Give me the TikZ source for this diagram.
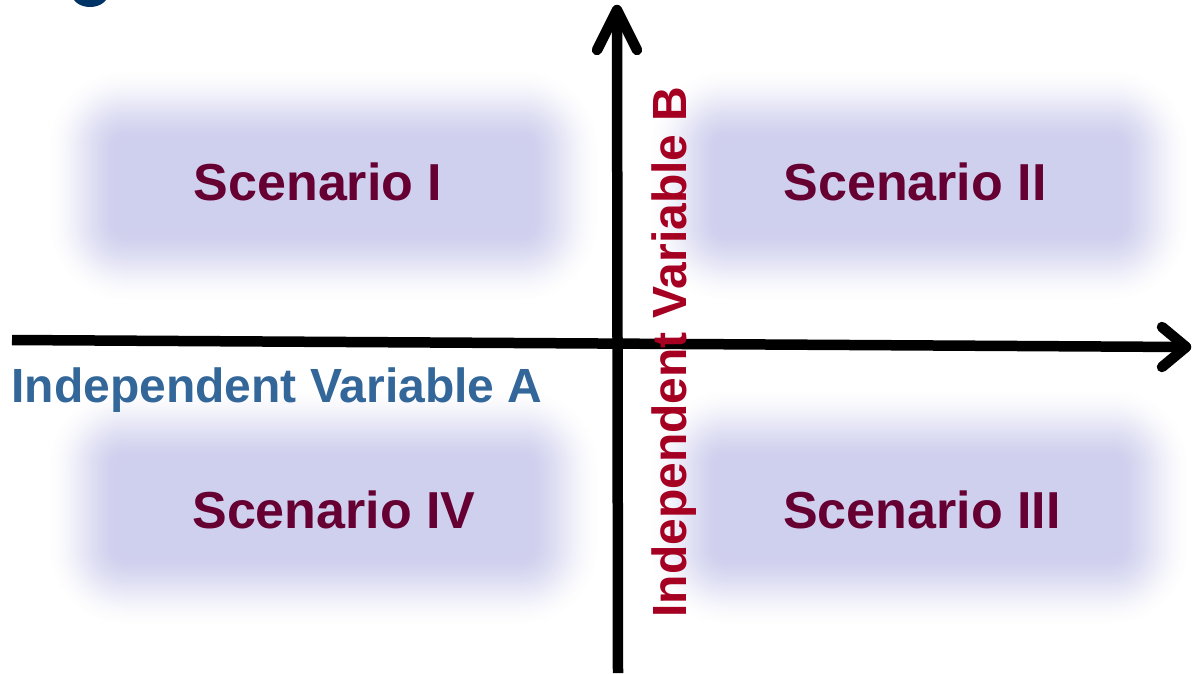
\documentclass[tikz,border=0pt]{standalone}
\usepackage{fontspec}
\setmainfont{Liberation Sans}
\definecolor{boxcore}{RGB}{207,207,238}
\definecolor{scen}{RGB}{102,0,51}
\definecolor{vara}{RGB}{51,102,153}
\definecolor{varb}{RGB}{165,0,33}
\definecolor{titleblue}{RGB}{0,51,102}
% #1..#4: rectangle at half intensity; soft edge of +-38pt
\newcommand\blurbox[4]{%
  \foreach \i in {0,...,38}{%
    \pgfmathsetmacro\tt{\i/38}%
    \pgfmathsetmacro\dd{38*(1-2*\tt)}%
    \pgfmathtruncatemacro\pp{100*(3*\tt*\tt-2*\tt*\tt*\tt)}%
    \pgfmathsetmacro\rr{\dd+44}%
    \fill[boxcore!\pp!white, rounded corners=\rr pt]
      (#1-\dd,#2-\dd) rectangle (#3+\dd,#4+\dd);
  }%
}
\tikzset{
  axis/.style={line width=10.5pt, black, line cap=butt},
  chev/.style={line width=10.5pt, black, line cap=round, line join=round},
  scenario/.style={inner sep=0pt, anchor=base, text=scen, font=\bfseries\fontsize{52}{60}\selectfont},
  varlabel/.style={inner sep=0pt, anchor=base, font=\bfseries\fontsize{48}{56}\selectfont}
}
\begin{document}
\begin{tikzpicture}[x=1pt,y=-1pt]
\clip (0,0) rectangle (1192,673);
\fill[white] (0,0) rectangle (1192,673);
% cut-off fragment of a title glyph
\fill[titleblue] (90,-6) ellipse [x radius=18, y radius=13];
% blurred scenario panels
\blurbox{82}{104}{565}{267}
\blurbox{683}{104}{1155}{267}
\blurbox{82}{423}{565}{591}
\blurbox{683}{423}{1155}{591}
% axes
\coordinate (hL) at (12,340);
\coordinate (hR) at (1186,347);
\coordinate (hRa) at (1162,327);
\coordinate (hRb) at (1162,367);
\coordinate (vB) at (618,673);
\coordinate (vT) at (617,10);
\coordinate (vTa) at (597,50);
\coordinate (vTb) at (637,50);
\draw[axis] (hL) -- (hR);
\draw[chev] (hRa) -- (hR) -- (hRb);
\draw[axis] (vB) -- (vT);
\draw[chev] (vTa) -- (vT) -- (vTb);
% scenario labels
\node[scenario] (s1) at (318,200) {Scenario I};
\node[scenario] (s2) at (915,200) {Scenario II};
\node[scenario] (s4) at (334,528) {Scenario IV};
\node[scenario] (s3) at (922,528) {Scenario III};
% variable labels
\node[varlabel, text=vara] (va) at (277,402) {Independent Variable A};
\node[varlabel, text=varb, rotate=90] (vb) at (686,352) {Independent Variable B};
\end{tikzpicture}
\end{document}
